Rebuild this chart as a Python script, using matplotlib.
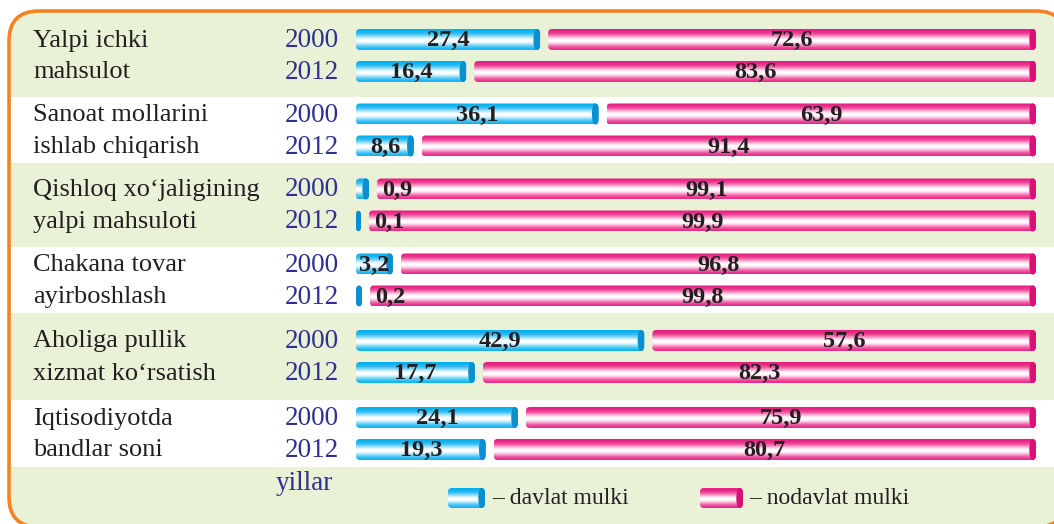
import numpy as np
import matplotlib
matplotlib.use("Agg")
import matplotlib.pyplot as plt
from matplotlib.patches import FancyBboxPatch, Ellipse
from matplotlib.transforms import IdentityTransform
from matplotlib.colors import to_rgb

# data
labels_top = ["Yalpi ichki", "Sanoat mollarini", "Qishloq xo\u2018jaligining",
              "Chakana tovar", "Aholiga pullik", "Iqtisodiyotda"]
labels_bot = ["mahsulot", "ishlab chiqarish", "yalpi mahsuloti",
              "ayirboshlash", "xizmat ko\u2018rsatish", "bandlar soni"]
years = ["2000", "2012"]
davlat_2000 = [27.4, 36.1, 0.9, 3.2, 42.9, 24.1]
davlat_2012 = [16.4, 8.6, 0.1, 0.2, 17.7, 19.3]
nodavlat_2000 = [72.6, 63.9, 99.1, 96.8, 57.6, 75.9]
nodavlat_2012 = [83.6, 91.4, 99.9, 99.8, 82.3, 80.7]

W, H = 1054, 524
PX = 6.72          # pixels per percent
X0 = 356           # pixel where 0 % sits
GAP = 8 / PX
BAR_H = 21
band_edges = [14, 97, 163, 247, 313, 400, 467]

SERIF = "Liberation Serif"
BLUE, BLUE_CAP = np.array(to_rgb("#00aeef")), "#0a8fd0"
PINK, PINK_CAP = np.array(to_rgb("#e8197f")), "#dc0f78"
GREEN_BG = "#e9f1d6"
YEAR_COL = "#2e3192"
TXT = "#231f20"


def px2x(px):
    return (px - X0) / PX


fig = plt.figure(figsize=(W / 100, H / 100), dpi=100)
ax = fig.add_axes([0, 0, 1, 1])
ax.set_xlim(px2x(0), px2x(W))
ax.set_ylim(H, 0)
ax.axis("off")

# orange rounded frame with green fill (pixel coordinates), cut by the right/bottom edges
frame = FancyBboxPatch((9, -3), 1057, 516, boxstyle="round,pad=0,rounding_size=30",
                       transform=IdentityTransform(), fc=GREEN_BG, ec="#f58220",
                       lw=2.6, zorder=-5)
fig.patches.append(frame)

# white bands
for i in (1, 3, 5):
    ax.axhspan(band_edges[i], band_edges[i + 1], xmin=11 / W, xmax=1,
               color="white", lw=0, zorder=1)


def grad_bar(x0, x1, yc, base, cap, h=BAR_H):
    patch = FancyBboxPatch((x0, yc - h / 2), x1 - x0, h,
                           boxstyle="round,pad=0,rounding_size=%f" % (4 / PX),
                           mutation_aspect=PX, fc="none", ec="none", zorder=3)
    ax.add_patch(patch)
    t = np.linspace(0, 1, 64)
    w = np.exp(-((t - 0.55) / 0.27) ** 2)
    col = base[None, :] * (1 - w[:, None]) + w[:, None]
    img = np.repeat(col[:, None, :], 4, axis=1)
    im = ax.imshow(img, extent=(x0, x1, yc + h / 2, yc - h / 2), aspect="auto",
                   interpolation="bilinear", zorder=3)
    im.set_clip_path(patch)
    e = Ellipse((x1 - 3 / PX, yc), 6 / PX, h, color=cap, zorder=4)
    ax.add_patch(e)
    e.set_clip_path(patch)


def fmt(v):
    return f"{v:.1f}".replace(".", ",")


blue_rows = [davlat_2000, davlat_2012]
pink_rows = [nodavlat_2000, nodavlat_2012]
for g in range(len(labels_top)):
    yc = (band_edges[g] + band_edges[g + 1]) / 2
    for r in range(2):
        y = yc - 16 + 32 * r
        b = blue_rows[r][g]
        p = pink_rows[r][g]
        if b < 1:
            bw = 0.6 + 1.5 * b
        else:
            bw = max(b, 5.5)
        grad_bar(0, bw, y, BLUE, BLUE_CAP)
        ps = bw + GAP
        pe = 100 + GAP
        grad_bar(ps, pe, y, PINK, PINK_CAP)
        if b < 1:
            ax.text(ps + 5 / PX, y + 1, fmt(b), ha="left", va="center",
                    family=SERIF, weight="bold", size=17.5, color=TXT, zorder=5)
        else:
            ax.text(bw / 2, y + 1, fmt(b), ha="center", va="center",
                    family=SERIF, weight="bold", size=17.5, color=TXT, zorder=5)
        ax.text((ps + pe) / 2, y + 1, fmt(p), ha="center", va="center",
                family=SERIF, weight="bold", size=17.5, color=TXT, zorder=5)
        ax.text(px2x(339), y + 1, years[r], ha="right", va="center",
                family=SERIF, size=19.5, color=YEAR_COL, zorder=5)
    ax.text(px2x(33), yc - 15, labels_top[g], ha="left", va="center",
            family=SERIF, size=19, color=TXT, zorder=5)
    ax.text(px2x(33), yc + 17, labels_bot[g], ha="left", va="center",
            family=SERIF, size=19, color=TXT, zorder=5)

# bottom: yillar + legend
ax.text(px2x(304), 483, "yillar", ha="center", va="center",
        family=SERIF, size=19.5, color=YEAR_COL)
grad_bar(px2x(448), px2x(485), 498, BLUE, BLUE_CAP, h=20)
ax.text(px2x(492), 498, "\u2013 davlat mulki", ha="left", va="center",
        family=SERIF, size=17, color=TXT)
grad_bar(px2x(700), px2x(743), 498, PINK, PINK_CAP, h=20)
ax.text(px2x(749), 498, "\u2013 nodavlat mulki", ha="left", va="center",
        family=SERIF, size=17, color=TXT)

ax.set_xlim(px2x(0), px2x(W))
ax.set_ylim(H, 0)
fig.savefig("out.png", dpi=100)
